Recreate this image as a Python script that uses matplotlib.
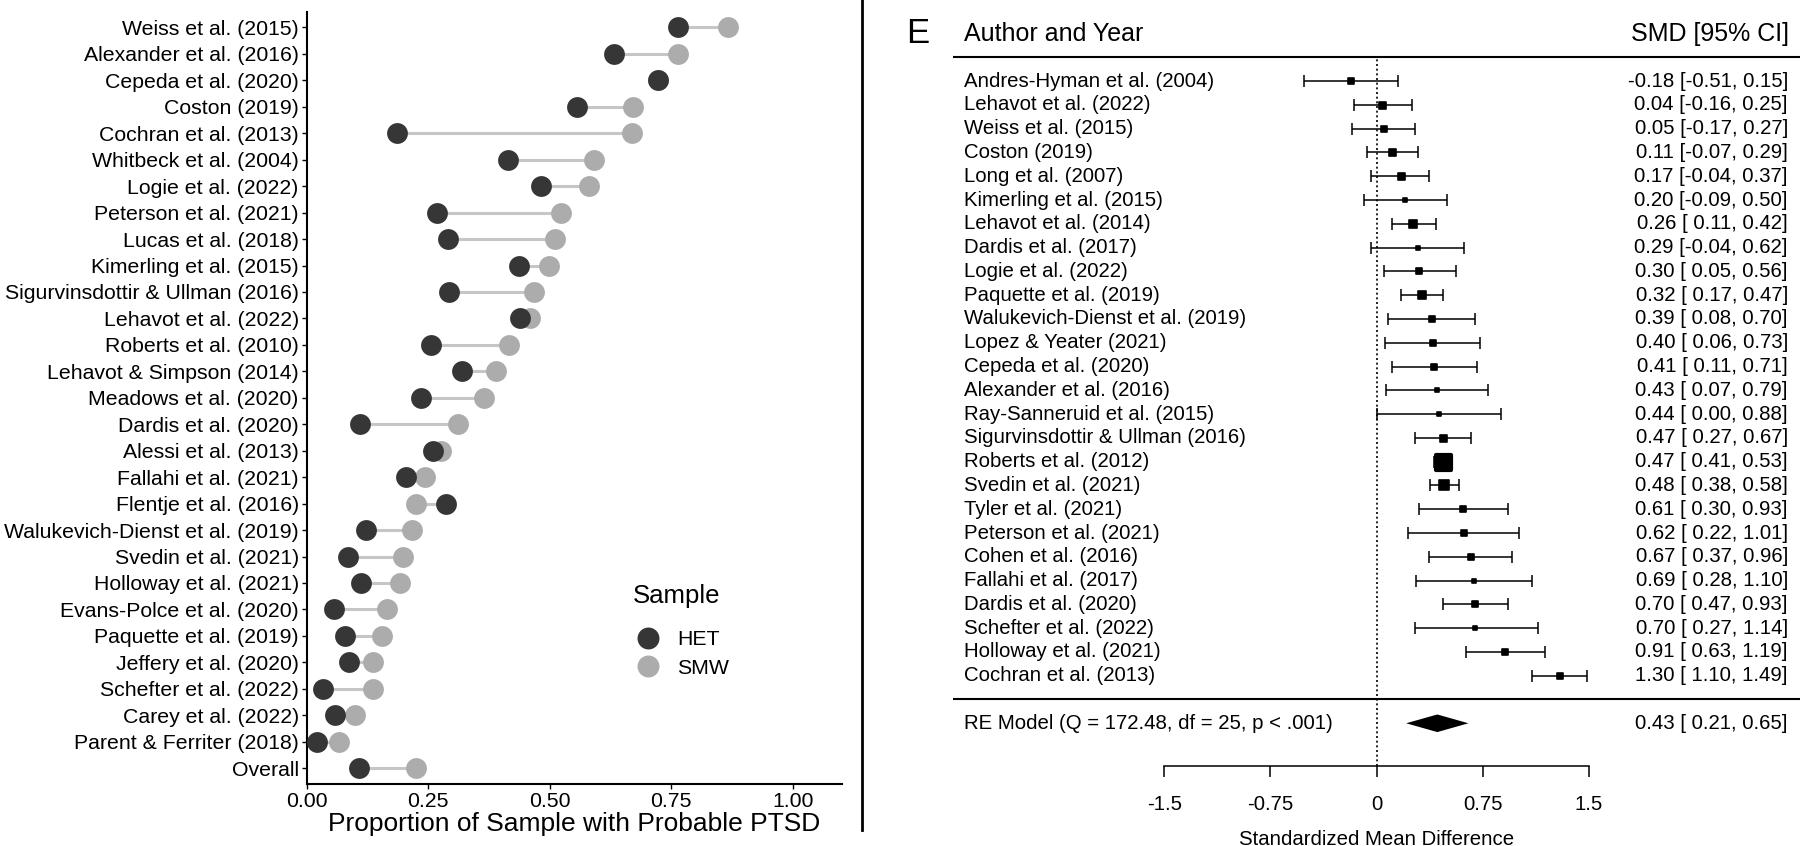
import matplotlib
matplotlib.use("Agg")
import matplotlib.pyplot as plt
from matplotlib.lines import Line2D
from matplotlib.markers import MarkerStyle
import numpy as np

plt.rcParams['font.family'] = ['Liberation Sans', 'DejaVu Sans']

# ---------------- Left panel data ----------------
left_studies = ["Weiss et al. (2015)", "Alexander et al. (2016)", "Cepeda et al. (2020)",
                "Coston (2019)", "Cochran et al. (2013)", "Whitbeck et al. (2004)",
                "Logie et al. (2022)", "Peterson et al. (2021)", "Lucas et al. (2018)",
                "Kimerling et al. (2015)", "Sigurvinsdottir & Ullman (2016)",
                "Lehavot et al. (2022)", "Roberts et al. (2010)", "Lehavot & Simpson (2014)",
                "Meadows et al. (2020)", "Dardis et al. (2020)", "Alessi et al. (2013)",
                "Fallahi et al. (2021)", "Flentje et al. (2016)",
                "Walukevich-Dienst et al. (2019)", "Svedin et al. (2021)",
                "Holloway et al. (2021)", "Evans-Polce et al. (2020)",
                "Paquette et al. (2019)", "Jeffery et al. (2020)", "Schefter et al. (2022)",
                "Carey et al. (2022)", "Parent & Ferriter (2018)", "Overall"]
het = [0.764, 0.632, 0.722, 0.556, 0.186, 0.415, 0.483, 0.269, 0.290, 0.437, 0.294,
       0.439, 0.257, 0.319, 0.236, 0.111, 0.260, 0.204, 0.286, 0.123, 0.086, 0.113,
       0.057, 0.080, 0.088, 0.034, 0.059, 0.022, 0.108]
smw = [0.867, 0.764, 0.722, 0.671, 0.669, 0.592, 0.580, 0.523, 0.511, 0.499, 0.468,
       0.460, 0.416, 0.389, 0.364, 0.312, 0.277, 0.243, 0.226, 0.217, 0.198, 0.193,
       0.166, 0.156, 0.136, 0.136, 0.099, 0.067, 0.226]
left_xticks = [0.00, 0.25, 0.50, 0.75, 1.00]
left_xticklabels = ["0.00", "0.25", "0.50", "0.75", "1.00"]
legend_labels = ["HET", "SMW"]

# ---------------- Right panel data ----------------
fp_studies = ["Andres-Hyman et al. (2004)", "Lehavot et al. (2022)", "Weiss et al. (2015)",
              "Coston (2019)", "Long et al. (2007)", "Kimerling et al. (2015)",
              "Lehavot et al. (2014)", "Dardis et al. (2017)", "Logie et al. (2022)",
              "Paquette et al. (2019)", "Walukevich-Dienst et al. (2019)",
              "Lopez & Yeater (2021)", "Cepeda et al. (2020)", "Alexander et al. (2016)",
              "Ray-Sanneruid et al. (2015)", "Sigurvinsdottir & Ullman (2016)",
              "Roberts et al. (2012)", "Svedin et al. (2021)", "Tyler et al. (2021)",
              "Peterson et al. (2021)", "Cohen et al. (2016)", "Fallahi et al. (2017)",
              "Dardis et al. (2020)", "Schefter et al. (2022)", "Holloway et al. (2021)",
              "Cochran et al. (2013)"]
fp_smd = [-0.18, 0.04, 0.05, 0.11, 0.17, 0.20, 0.26, 0.29, 0.30, 0.32, 0.39, 0.40, 0.41,
          0.43, 0.44, 0.47, 0.47, 0.48, 0.61, 0.62, 0.67, 0.69, 0.70, 0.70, 0.91, 1.30]
fp_lb = [-0.51, -0.16, -0.17, -0.07, -0.04, -0.09, 0.11, -0.04, 0.05, 0.17, 0.08, 0.06,
         0.11, 0.07, 0.00, 0.27, 0.41, 0.38, 0.30, 0.22, 0.37, 0.28, 0.47, 0.27, 0.63, 1.10]
fp_ub = [0.15, 0.25, 0.27, 0.29, 0.37, 0.50, 0.42, 0.62, 0.56, 0.47, 0.70, 0.73, 0.71,
         0.79, 0.88, 0.67, 0.53, 0.58, 0.93, 1.01, 0.96, 1.10, 0.93, 1.14, 1.19, 1.49]
fp_marker_px = [6, 7, 6, 7, 7, 5, 8, 5, 6, 7.5, 6, 6, 6, 5, 5, 7, 15, 10, 6, 6, 6, 5, 6, 5, 6, 6]
re_est, re_lb, re_ub = 0.43, 0.21, 0.65
re_label = "RE Model (Q = 172.48, df = 25, p < .001)"
fp_xticks = [-1.5, -0.75, 0, 0.75, 1.5]
fp_xticklabels = ["-1.5", "-0.75", "0", "0.75", "1.5"]

W, H = 1800, 846
fig = plt.figure(figsize=(W / 100, H / 100), dpi=100)

# ================= Left panel =================
dark = "#363636"
light = "#acacac"
seg = "#c6c6c6"
axL = fig.add_axes([306.5 / W, 1 - 784 / H, 535 / W, (784 - 11.6) / H])
n = len(left_studies)
ypos = np.arange(n)[::-1]
axL.hlines(ypos, het, smw, color=seg, lw=2.2, zorder=1)
axL.plot(smw, ypos, 'o', ms=15, color=light, mec='none', zorder=2)
axL.plot(het, ypos, 'o', ms=15, color=dark, mec='none', zorder=3)
axL.set_xlim(0, 1.1)
axL.set_ylim(-0.6, n - 1 + 0.6)
axL.set_yticks(ypos)
axL.set_yticklabels(left_studies, fontsize=15.3, color="black")
axL.set_xticks(left_xticks)
axL.set_xticklabels(left_xticklabels, fontsize=15.3, color="black")
for s in ['top', 'right']:
    axL.spines[s].set_visible(False)
for s in ['left', 'bottom']:
    axL.spines[s].set_linewidth(1.5)
axL.tick_params(axis='both', length=3.5, width=1.0, pad=2, colors='black')
axL.set_xlabel("Proportion of Sample with Probable PTSD", fontsize=19, labelpad=1)

handles = [Line2D([], [], marker='o', ls='none', ms=15.8, color=dark, mec='none'),
           Line2D([], [], marker='o', ls='none', ms=15.8, color=light, mec='none')]
leg = axL.legend(handles, legend_labels, title="Sample", loc='upper left',
                 bbox_to_anchor=(622 / W, 1 - 573 / H), bbox_transform=fig.transFigure,
                 frameon=False, fontsize=15.3, title_fontsize=18.5, borderpad=0,
                 handlelength=1.4, handletextpad=0.7, labelspacing=0.45,
                 alignment='left')
leg._legend_box.sep = 16.3

# separator line
fig.add_artist(Line2D([862 / W, 862 / W], [1, 1 - 830 / H], color='black', lw=2))

# ================= Right panel =================
axR = fig.add_axes([953 / W, 0, 847 / W, 1])
k = len(fp_studies)
rows = np.arange(k, 0, -1)
axR.set_xlim(-2.995, 2.995)
axR.set_ylim(-6.16, 29.41)

xerr = [np.array(fp_smd) - np.array(fp_lb), np.array(fp_ub) - np.array(fp_smd)]
axR.errorbar(fp_smd, rows, xerr=xerr, fmt='none', ecolor='black', elinewidth=1.1,
             capsize=4.3, capthick=1.1, zorder=2)
msq = MarkerStyle('s', joinstyle='round')
for xv, yv, px in zip(fp_smd, rows, fp_marker_px):
    axR.plot([xv], [yv], marker=msq, ms=px * 0.72, color='black', mec='black',
             mew=1.2 if px < 12 else 3.0, ls='none', zorder=3)

# diamond
h = 0.37
axR.fill([re_lb, re_est, re_ub, re_est], [-1, -1 + h, -1, -1 - h], color='black', lw=0)

axR.axhline(k + 1, color='black', lw=1.5)
axR.axhline(0, color='black', lw=1.5)
axR.vlines(0, -2.78, k + 1, colors='black', linestyles=(0, (1.2, 1.6)), lw=1.2)

fs = 14.7
xl, xr = -2.92, 2.91
for lab, yv, sm, lb, ub in zip(fp_studies, rows, fp_smd, fp_lb, fp_ub):
    axR.text(xl, yv, lab, fontsize=fs, ha='left', va='center')
    axR.text(xr, yv, f"{sm:.2f} [{lb:5.2f}, {ub:.2f}]", fontsize=fs, ha='right', va='center')
axR.text(xl, -1, re_label, fontsize=fs, ha='left', va='center')
axR.text(xr, -1, f"{re_est:.2f} [{re_lb:5.2f}, {re_ub:.2f}]", fontsize=fs, ha='right', va='center')

axR.text(xl, k + 2, "Author and Year", fontsize=18, ha='left', va='center')
axR.text(2.914, k + 2, "SMD [95% CI]", fontsize=18, ha='right', va='center')
axR.text(-3.33, k + 2, "E", fontsize=25, ha='left', va='center')

# axis
for s in ['top', 'right', 'left']:
    axR.spines[s].set_visible(False)
axR.spines['bottom'].set_position(('data', -2.78))
axR.spines['bottom'].set_bounds(-1.5, 1.5)
axR.spines['bottom'].set_linewidth(1.1)
axR.set_yticks([])
axR.set_xticks(fp_xticks)
axR.set_xticklabels(fp_xticklabels, fontsize=fs)
axR.tick_params(axis='x', direction='out', length=8, width=1.1, pad=13)
axR.text(0, -5.87, "Standardized Mean Difference", fontsize=fs, ha='center', va='center')

fig.savefig("out.png", dpi=100)
